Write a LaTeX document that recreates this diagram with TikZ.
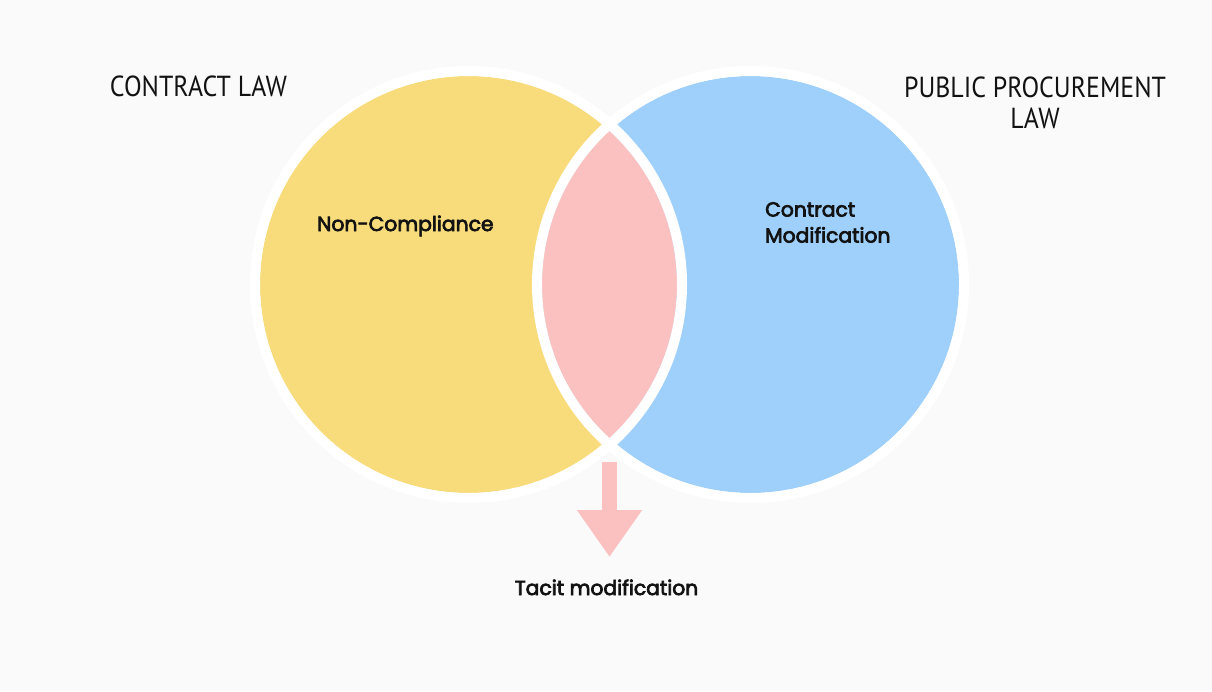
\documentclass[tikz,border=0pt]{standalone}
\usepackage{fontspec}
\usepackage{xcolor}
\usetikzlibrary{arrows.meta, positioning, calc}
\newfontfamily\titlefont{PT Sans}[FakeStretch=0.89]
\newfontfamily\setfont{Poppins}[FakeBold=3.5]
\definecolor{bg}{RGB}{250,250,250}
\definecolor{lawyellow}{RGB}{248,220,124}
\definecolor{lawblue}{RGB}{158,208,251}
\definecolor{lawpink}{RGB}{251,192,192}
\definecolor{ink}{RGB}{18,18,18}
\tikzstyle{set} = [circle, minimum size=417pt, inner sep=0pt]
\tikzstyle{ring} = [draw=white, line width=10pt]
\tikzstyle{title} = [font=\titlefont\fontsize{29}{31}\selectfont, text=ink, align=center, inner sep=0pt]
\tikzstyle{setlabel} = [font=\setfont\fontsize{20.3}{26}\selectfont, text=ink, align=left, inner sep=0pt]
\tikzstyle{arrow} = [lawpink, line width=15pt, -{Triangle[width=62pt, length=47pt]}]

\begin{document}
\begin{tikzpicture}[x=1pt, y=-1pt]
        \fill[bg] (0,0) rectangle (1212,691);
        % the two sets and their overlap
        \node[set, fill=lawyellow] (contract) at (468.5,284.5) {};
        \node[set, fill=lawblue] (procurement) at (750.5,284.5) {};
        \begin{scope}
            \clip (contract.center) circle (208.5);
            \fill[lawpink] (procurement.center) circle (208.5);
        \end{scope}
        \draw[ring] (contract.center) circle (213.5);
        \draw[ring] (procurement.center) circle (213.5);
        % titles
        \node[title, anchor=base] (contracttitle) at (198.5,96) {CONTRACT LAW};
        \node[title, anchor=north] (procurementtitle) at (1035,77) {PUBLIC PROCUREMENT\\LAW};
        % labels inside the sets
        \node[setlabel, anchor=base west] (noncompliance) at (317,231) {Non-Compliance};
        \node[setlabel, anchor=north west] (modification) at (765,202) {Contract\\Modification};
        % result of the overlap
        \coordinate (lensbottom) at (609.5,462);
        \coordinate (tip) at (609.5,557);
        \draw[arrow] (lensbottom) -- (tip);
        \node[setlabel, anchor=base] (tacit) at (606.5,595) {Tacit modification};
\end{tikzpicture}
\end{document}
